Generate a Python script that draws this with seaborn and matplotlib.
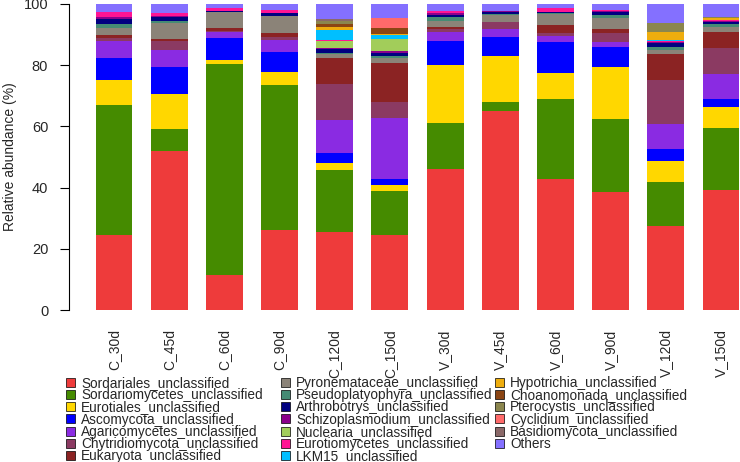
import pandas as pd
import matplotlib.pyplot as plt
import seaborn as sns
from matplotlib.patches import Patch

# samples (x axis) and taxa (stack order, bottom to top)
samples = ['C_30d', 'C_45d', 'C_60d', 'C_90d', 'C_120d', 'C_150d',
           'V_30d', 'V_45d', 'V_60d', 'V_90d', 'V_120d', 'V_150d']
taxa = ['Sordariales_unclassified', 'Sordariomycetes_unclassified', 'Eurotiales_unclassified',
        'Ascomycota_unclassified', 'Agaricomycetes_unclassified', 'Chytridiomycota_unclassified',
        'Eukaryota_unclassified', 'Pyronemataceae_unclassified', 'Pseudoplatyophyra_unclassified',
        'Arthrobotrys_unclassified', 'Schizoplasmodium_unclassified', 'Nuclearia_unclassified',
        'Eurotiomycetes_unclassified', 'LKM15_unclassified', 'Hypotrichia_unclassified',
        'Choanomonada_unclassified', 'Pterocystis_unclassified', 'Cyclidium_unclassified',
        'Basidiomycota_unclassified', 'Others']
colors = ['#EE3B3B', '#458B00', '#FFD700', '#0000FF', '#8A2BE2', '#8B3A62', '#8B2323',
          '#8B8378', '#458B74', '#000080', '#8B008B', '#A2CD5A', '#FF1493', '#00BFFF',
          '#EEAD0E', '#8B4513', '#8B864E', '#FF6A6A', '#8B6969', '#8470FF']

# relative abundance (%) per sample, same order as taxa
c_30d = [24.5, 42.4, 8.3, 7.0, 5.8, 1.0, 1.0, 2.1, 1.4, 1.7, 0.7, 0, 1.5, 0, 0, 0, 0, 0, 0, 2.6]
c_45d = [52.0, 7.2, 11.5, 8.6, 5.7, 3.0, 0.5, 5.3, 0.8, 1.1, 0.5, 0, 0.7, 0, 0, 0, 0, 0, 0, 3.1]
c_60d = [11.3, 69.0, 1.3, 7.2, 2.0, 0.3, 1.2, 5.1, 0, 0.3, 0, 0, 0.9, 0, 0, 0, 0, 0, 0, 1.4]
c_90d = [26.0, 47.5, 4.4, 6.5, 3.8, 1.1, 1.2, 5.6, 0, 0.9, 0, 0, 1.1, 0, 0, 0, 0, 0, 0, 1.9]
c_120d = [25.6, 20.2, 2.1, 3.5, 10.7, 11.9, 8.2, 1.4, 0.3, 1.4, 0.2, 2.4, 0.2, 3.3, 1.1, 0.9, 1.0, 0, 0.8, 4.8]
c_150d = [24.4, 14.6, 2.0, 1.7, 20.2, 5.0, 12.7, 1.8, 0.5, 1.2, 0.5, 3.9, 0, 1.4, 0.2, 2.2, 0, 3.1, 0, 4.6]
v_30d = [46.1, 14.9, 19.1, 7.9, 3.0, 0.8, 0.8, 1.9, 1.1, 0.8, 0.5, 0, 0.9, 0, 0, 0, 0, 0, 0, 2.2]
v_45d = [65.0, 3.1, 14.9, 6.2, 2.5, 2.4, 0, 2.2, 0.4, 0.7, 0.4, 0, 0, 0, 0, 0, 0, 0, 0, 2.2]
v_60d = [42.7, 26.4, 8.2, 10.4, 1.8, 1.1, 2.5, 3.7, 0.2, 0.3, 0, 0, 1.5, 0, 0, 0, 0, 0, 0, 1.2]
v_90d = [38.6, 23.9, 16.9, 6.6, 1.7, 2.8, 1.2, 3.8, 0.8, 1.0, 0.3, 0, 0.5, 0, 0, 0, 0, 0, 0, 1.9]
v_120d = [27.5, 14.3, 7.0, 3.8, 8.1, 14.5, 8.6, 1.1, 1.1, 1.2, 0.5, 0, 0.3, 0.3, 2.7, 0, 2.8, 0, 0, 6.2]
v_150d = [39.1, 20.3, 6.8, 2.9, 7.9, 8.5, 5.4, 1.7, 0.8, 0.6, 0.3, 0, 0.4, 0, 0.6, 0, 0.3, 0.2, 0, 4.2]

values = [c_30d, c_45d, c_60d, c_90d, c_120d, c_150d,
          v_30d, v_45d, v_60d, v_90d, v_120d, v_150d]

rows = []
for s, vals in zip(samples, values):
    for t, v in zip(taxa, vals):
        rows.append({'sample': s, 'taxon': t, 'abundance': v})
df = pd.DataFrame(rows)
df['sample'] = pd.Categorical(df['sample'], categories=samples, ordered=True)

sns.set_style('white')
plt.rcParams['font.family'] = ['Liberation Sans', 'DejaVu Sans']

fig = plt.figure(figsize=(7.4, 4.62), dpi=100)
# axes placed in pixels: y-axis at x=69, y=0 at 310px, y=100 at 4px
ax = fig.add_axes([69 / 740, 152 / 462, 671 / 740, 306 / 462])

palette = dict(zip(taxa, colors))
# histplot stacks the last hue level at the bottom, so reverse the order
sns.histplot(data=df, x='sample', weights='abundance', hue='taxon',
             hue_order=taxa[::-1], palette=palette, multiple='stack',
             discrete=True, shrink=0.67, linewidth=0, alpha=1, legend=False, ax=ax)

px = 55.2  # pixels per bar slot
ax.set_xlim(-45 / px, 11 + 19 / px)
ax.set_ylim(0, 100)
ax.set_yticks([0, 20, 40, 60, 80, 100])
ax.tick_params(axis='y', direction='out', length=6.5, width=0.8, color='black',
               labelsize=10.5, pad=8.5, left=True)
ax.tick_params(axis='x', length=0, labelsize=10, pad=14, labelrotation=90)
ax.set_xlabel('')
ax.set_ylabel('Relative abundance (%)', fontsize=10, labelpad=5)

for side in ['top', 'right', 'bottom']:
    ax.spines[side].set_visible(False)
ax.spines['left'].set_bounds(0, 100)
ax.spines['left'].set_color('black')
ax.spines['left'].set_linewidth(0.8)

# legend: three columns with fixed positions (like R's legend with ncol=3)
handles = [Patch(facecolor=c, edgecolor='black', linewidth=0.5) for c in colors]
col_x = [66, 281, 495]
col_items = [range(0, 7), range(7, 14), range(14, 20)]
for x0, idx in zip(col_x, col_items):
    fig.legend([handles[i] for i in idx], [taxa[i] for i in idx], loc='upper left',
               bbox_to_anchor=(x0 / 740, 1 - 376 / 462), frameon=False, fontsize=9.8,
               handlelength=0.65, handleheight=0.65, handletextpad=0.45,
               labelspacing=-0.13, borderpad=0, borderaxespad=0)

fig.savefig('out.png', dpi=100)
